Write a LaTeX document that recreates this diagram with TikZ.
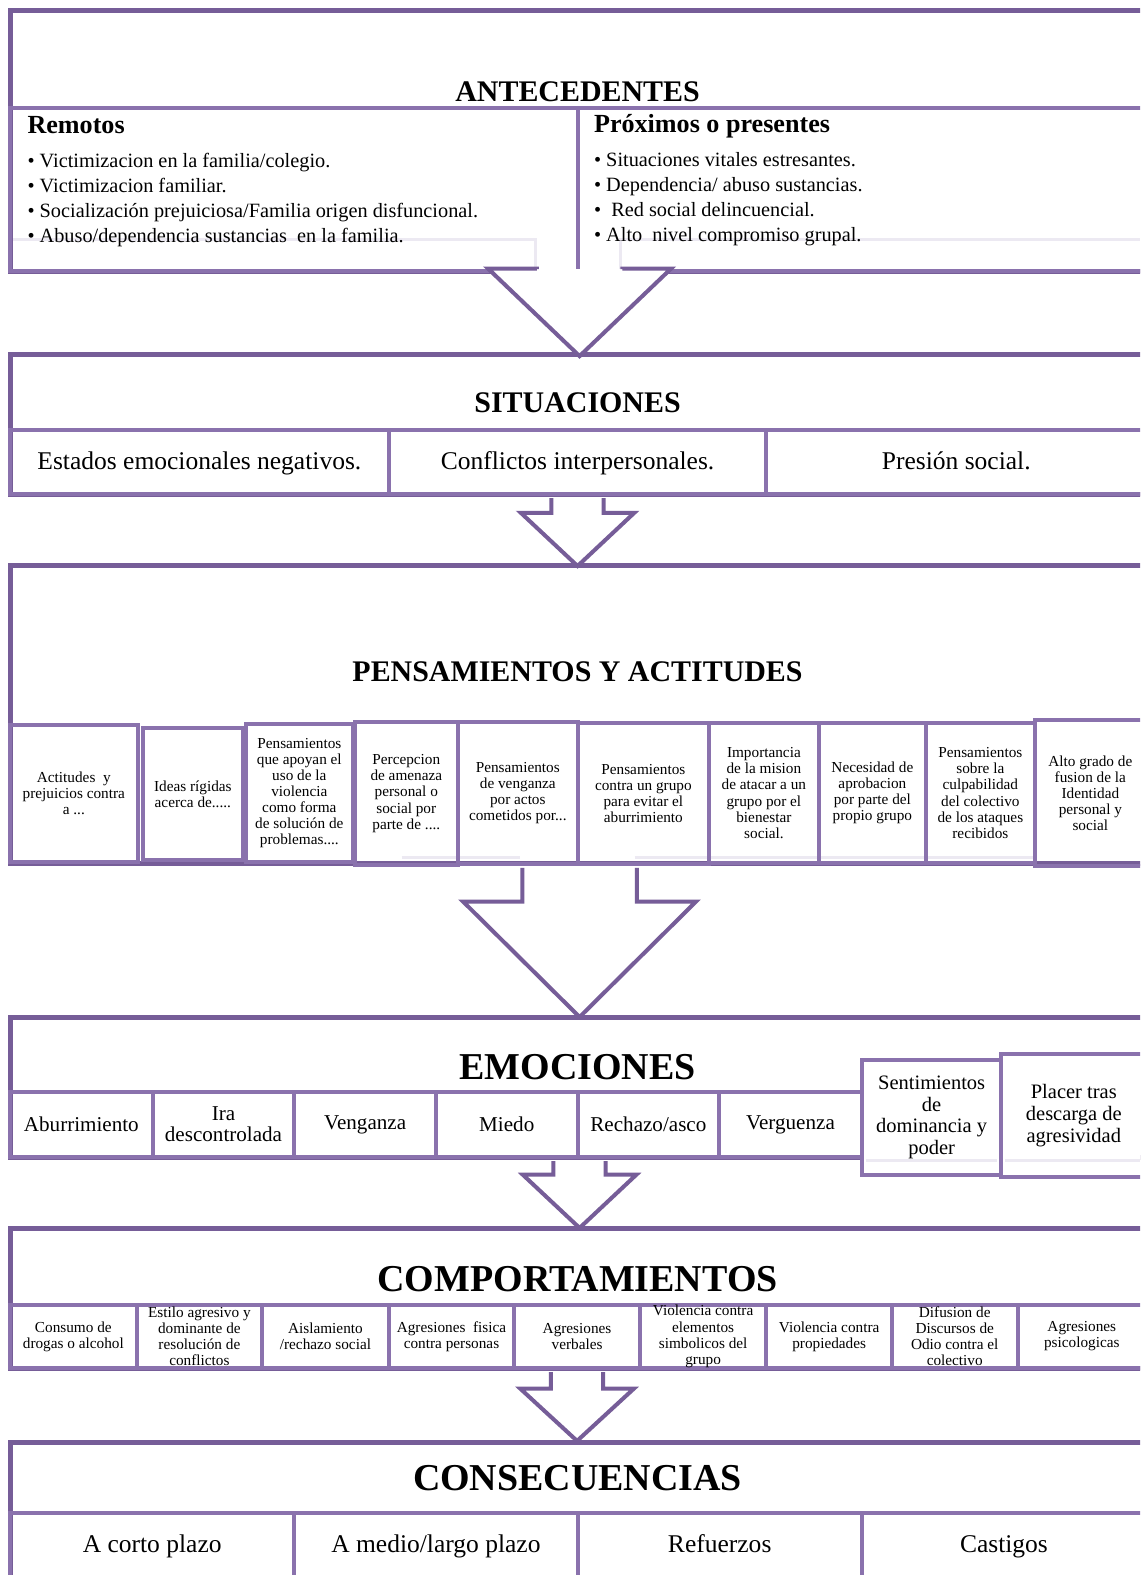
\documentclass[tikz,border=0pt]{standalone}
\usepackage{fontspec}
\setmainfont{Liberation Serif}
\usetikzlibrary{positioning,calc}

\definecolor{frameLine}{HTML}{765D98}
\definecolor{cellLine}{HTML}{8A72AD}
\definecolor{ghostLine}{HTML}{ECE9F2}

\tikzset{
  stageframe/.style={draw=frameLine, line width=2.5pt, inner sep=0pt},
  stagetitle/.style={font=\bfseries\fontsize{14.9}{16}\selectfont, inner sep=0pt},
  bigtitle/.style={font=\bfseries\fontsize{18.9}{20}\selectfont, inner sep=0pt},
  subhead/.style={font=\bfseries\fontsize{13}{15}\selectfont, inner sep=0pt},
  bulletlist/.style={font=\fontsize{10.1}{12.5}\selectfont, align=left, inner sep=0pt},
  cellbox/.style={draw=cellLine, line width=2pt, inner sep=0pt, align=center},
  sitcell/.style={cellbox, font=\fontsize{12.7}{14}\selectfont,
                  text height=1em, text depth=0.25em},
  emocell/.style={cellbox, font=\fontsize{10.5}{10.5}\selectfont},
  sidecell/.style={cellbox, fill=white, font=\fontsize{10.2}{10.8}\selectfont},
  tinycell/.style={cellbox, font=\fontsize{7.6}{8}\selectfont},
  conslabel/.style={font=\fontsize{12.7}{14}\selectfont, inner sep=0pt,
                    text height=1em, text depth=0.25em},
  blockarrow/.style={draw=frameLine, line width=2pt, fill=white, line join=miter},
  ghostline/.style={draw=ghostLine, line width=1.5pt},
}

% box given by its corners (picture units: 1 = 0.5pt, y grows downwards)
\newcommand{\spanbox}[7]{%
  \node[#1, minimum width={(#5-#3)*0.5pt}, minimum height={(#6-#4)*0.5pt}]
    (#2) at ({(#3+#5)/2},{(#4+#6)/2}) {#7};}

% hollow down arrow: shaft start, tip, shaft half width, head half width, head length
\newcommand{\hollowarrow}[5]{%
  \draw[blockarrow] ($(#1)+(-#3,0)$) |- ($(#2)+(-#4,-#5)$) -- (#2)
    -- ($(#2)+(#4,-#5)$) -| ($(#1)+(#3,0)$);}

\begin{document}
\begin{tikzpicture}[x=0.5pt, y=-0.5pt]
\useasboundingbox (0,0) rectangle (1135,1568);
\fill[white] (0,0) rectangle (1135,1568);
\clip (0,0) rectangle (1135,1568);

%% faint guide lines left behind the boxes
\draw[ghostline] (10,238) -- (533,238) -- (533,268);
\draw[ghostline] (618,268) -- (618,238) -- (1135,238);
\draw[ghostline] (400,854) -- (518,854);
\draw[ghostline] (632,854) -- (1030,854);

%% stage frames (open to the right)
\spanbox{stageframe}{antFrame}{10}{10}{1160}{270}{}
\spanbox{stageframe}{sitFrame}{10}{353}{1160}{492}{}
\spanbox{stageframe}{penFrame}{10}{563}{1160}{860}{}
\spanbox{stageframe}{emoFrame}{10}{1013}{1160}{1152}{}
\spanbox{stageframe}{comFrame}{10}{1223}{1160}{1362}{}
\spanbox{stageframe}{consFrame}{10}{1436}{1160}{1600}{}

%% Antecedentes
\node[stagetitle, anchor=base] (antTitle) at (575,101) {ANTECEDENTES};
\spanbox{cellbox}{remBox}{10}{108}{575}{270}{}
\spanbox{cellbox}{proxBox}{575}{108}{1160}{270}{}
\node[subhead, anchor=base west] (remHead) at (27,133) {Remotos};
\node[subhead, anchor=base west] (proxHead) at (591,132) {Próximos o presentes};
\node[bulletlist, anchor=north west] (remList) at (27,152) {%
  • Victimizacion en la familia/colegio.\\
  • Victimizacion familiar.\\
  • Socialización prejuiciosa/Familia origen disfuncional.\\
  • Abuso/dependencia sustancias\ \ en la familia.};
\node[bulletlist, anchor=north west] (proxList) at (591,151) {%
  • Situaciones vitales estresantes.\\
  • Dependencia/ abuso sustancias.\\
  • \ Red social delincuencial.\\
  • Alto\ \ nivel compromiso grupal.};

%% Situaciones
\node[stagetitle, anchor=base] (sitTitle) at (575,411) {SITUACIONES};
\foreach \nm/\xa/\xb/\txt in {sit1/10/387/{Estados emocionales negativos.},
    sit2/387/763/{Conflictos interpersonales.}, sit3/763/1141/{Presión social.}} {
  \spanbox{sitcell}{\nm}{\xa}{428}{\xb}{492}{\txt}
}

%% Pensamientos y actitudes
\node[stagetitle, anchor=base] (penTitle) at (575,678) {PENSAMIENTOS Y ACTITUDES};
\foreach \nm/\xa/\xb/\ya/\yb/\txt in {
  pen1/10/137/722/858/{Actitudes\ \ y\\prejuicios contra\\a ...},
  pen2/142/242/725/856/{Ideas rígidas\\acerca de.....},
  pen3/245/351/721/858/{Pensamientos\\que apoyan el\\uso de la\\violencia\\como forma\\de solución de\\problemas....},
  pen4/353/456/719/861/{Percepcion\\de amenaza\\personal o\\social por\\parte de ....},
  pen5/456/575/719/860/{Pensamientos\\de venganza\\por actos\\cometidos por...},
  pen6/575/706/720/860/{Pensamientos\\contra un grupo\\para evitar el\\aburrimiento},
  pen7/706/815/720/859/{Importancia\\de la mision\\de atacar a un\\grupo por el\\bienestar\\social.},
  pen8/815/922/720/859/{Necesidad de\\aprobacion\\por parte del\\propio grupo},
  pen9/922/1030/720/859/{Pensamientos\\sobre la\\culpabilidad\\del colectivo\\de los ataques\\recibidos},
  pen10/1030/1141/717/862/{Alto grado de\\fusion de la\\Identidad\\personal y\\social}%
} {
  \spanbox{tinycell}{\nm}{\xa}{\ya}{\xb}{\yb}{\txt}
}

%% Emociones
\node[bigtitle, anchor=base] (emoTitle) at (575,1075) {EMOCIONES};
\foreach \nm/\xa/\xb/\txt in {emo1/10/152/{Aburrimiento}, emo2/152/293/{Ira\\descontrolada},
    emo3/293/434/{Venganza}, emo4/434/575/{Miedo}, emo5/575/716/{Rechazo/asco},
    emo6/716/858/{Verguenza}} {
  \spanbox{emocell}{\nm}{\xa}{1087}{\xb}{1152}{\txt}
}
\spanbox{sidecell}{emo7}{858}{1055}{997}{1170}{Sentimientos\\de\\dominancia y\\poder}
\spanbox{sidecell}{emo8}{997}{1049}{1141}{1172}{Placer tras\\descarga de\\agresividad}
\draw[ghostline] (862,1155) -- (993,1155);
\draw[ghostline] (1001,1155) -- (1135,1155);

%% Comportamientos
\node[bigtitle, anchor=base] (comTitle) at (575,1286) {COMPORTAMIENTOS};
\foreach \nm/\xa/\xb/\txt in {
  com1/10/136/{Consumo de\\drogas o alcohol},
  com2/136/261/{Estilo agresivo y\\dominante de\\resolución de\\conflictos},
  com3/261/387/{Aislamiento\\/rechazo social},
  com4/387/512/{Agresiones\ \ fisica\\contra personas},
  com5/512/637/{Agresiones\\verbales},
  com6/637/763/{Violencia contra\\elementos\\simbolicos del\\grupo},
  com7/763/888/{Violencia contra\\propiedades},
  com8/888/1013/{Difusion de\\Discursos de\\Odio contra el\\colectivo},
  com9/1013/1141/{Agresiones\\psicologicas}%
} {
  \spanbox{tinycell}{\nm}{\xa}{1299}{\xb}{1362}{\txt}
}

%% Consecuencias
\node[bigtitle, anchor=base] (consTitle) at (575,1484) {CONSECUENCIAS};
\foreach \nm/\xa/\xb/\txt in {cons1/10/293/{A corto plazo}, cons2/293/575/{A medio/largo plazo},
    cons3/575/858/{Refuerzos}, cons4/858/1141/{Castigos}} {
  \spanbox{cellbox}{\nm}{\xa}{1506}{\xb}{1600}{}
  \node[conslabel] (\nm Txt) at ({(\xa+\xb)/2},1538) {\txt};
}

%% hollow arrows between the stages
\coordinate (arrA) at ($(remBox.south east)+(0,-4)$);
\coordinate (arrB) at ($(sit2.south)+(0,2)$);
\coordinate (arrC) at ($(pen5.south east)+(0,2)$);
\coordinate (arrD) at ($(emo4.south east)+(0,2)$);
\coordinate (arrE) at ($(com5.south)+(0,2)$);
\coordinate (tipA) at ($(remBox.south east |- sitFrame.north)+(0,4)$);
\coordinate (tipB) at ($(sit2.south |- penFrame.north)+(0,3)$);
\coordinate (tipC) at ($(pen5.south east |- emoFrame.north)+(0,2)$);
\coordinate (tipD) at ($(emo4.south east |- comFrame.north)+(0,2)$);
\coordinate (tipE) at ($(com5.south |- consFrame.north)+(0,1)$);
\hollowarrow{arrA}{tipA}{42.5}{91}{87}
\hollowarrow{arrB}{tipB}{26}{56.5}{53}
\hollowarrow{arrC}{tipC}{57}{116}{115}
\hollowarrow{arrD}{tipD}{26}{56.5}{53}
\hollowarrow{arrE}{tipE}{26}{56.5}{52}
\end{tikzpicture}
\end{document}
